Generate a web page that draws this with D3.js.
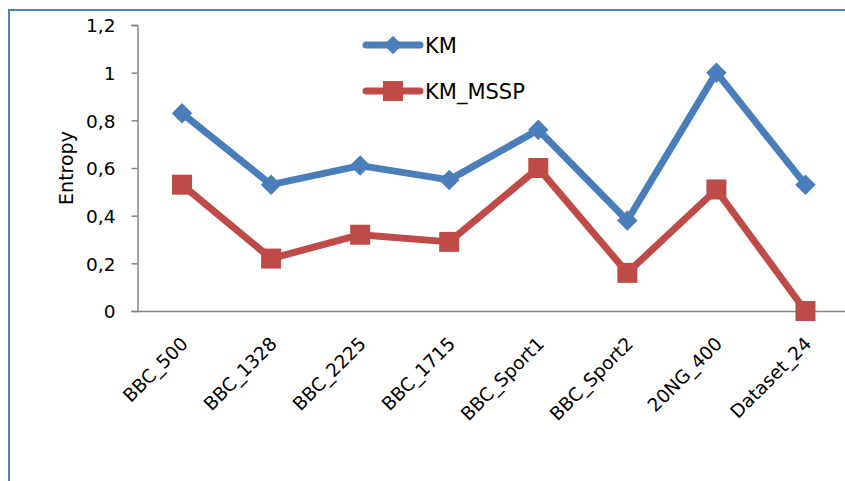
<!DOCTYPE html>
<html>
<head>
<meta charset="utf-8">
<script src="https://cdn.jsdelivr.net/npm/d3@7"></script>
<style>
  html, body { margin: 0; padding: 0; background: #fff; }
  svg { display: block; }
  svg text { font-family: "DejaVu Sans", sans-serif; fill: #000; }
</style>
</head>
<body>
<svg id="chart" width="845" height="481"></svg>
<script>
const categories = ["BBC_500", "BBC_1328", "BBC_2225", "BBC_1715", "BBC_Sport1", "BBC_Sport2", "20NG_400", "Dataset_24"];
const kmValues = [0.83, 0.53, 0.61, 0.55, 0.76, 0.38, 1.0, 0.53];
const kmMsspValues = [0.53, 0.22, 0.32, 0.29, 0.60, 0.16, 0.51, 0.0];
const yTicks = [0, 0.2, 0.4, 0.6, 0.8, 1, 1.2];
const seriesNames = ["KM", "KM_MSSP"];

const svg = d3.select("#chart");
const blue = "#4A7EBB", red = "#BE4B48", axisColor = "#868686";
const fontSize = "18.5px";

// outer frame
svg.append("rect")
  .attr("x", 9).attr("y", 10).attr("width", 900).attr("height", 600)
  .attr("fill", "none").attr("stroke", "#4F81BD").attr("stroke-width", 2);

const plot = { left: 137.5, right: 850, top: 25, bottom: 311 };

const x = d3.scaleBand().domain(categories).range([plot.left, plot.right]);
const y = d3.scaleLinear().domain([0, 1.2]).range([plot.bottom, plot.top]);
const cx = d => x(d) + x.bandwidth() / 2;

// y axis
const yAxis = svg.append("g")
  .attr("transform", `translate(${plot.left},0)`)
  .call(d3.axisLeft(y).tickValues(yTicks).tickSize(6).tickPadding(16)
    .tickFormat(d => String(d).replace(".", ",")));
yAxis.attr("font-family", null).attr("font-size", null);
yAxis.select(".domain").attr("stroke", axisColor).attr("stroke-width", 1.5);
yAxis.selectAll(".tick line").attr("stroke", axisColor).attr("stroke-width", 1.5);
yAxis.selectAll(".tick text").style("font-size", fontSize).attr("dy", "0.36em");

// x axis
const xAxis = svg.append("g")
  .attr("transform", `translate(0,${plot.bottom})`)
  .call(d3.axisBottom(x).tickSize(0).tickPadding(0));
xAxis.attr("font-family", null).attr("font-size", null);
xAxis.select(".domain").attr("stroke", axisColor).attr("stroke-width", 1.5);
xAxis.selectAll(".tick text")
  .style("font-size", fontSize)
  .attr("text-anchor", "end")
  .attr("dy", 0)
  .attr("transform", "translate(7,34) rotate(-45)");

// y axis title
svg.append("text")
  .attr("transform", `translate(73,168) rotate(-90)`)
  .attr("text-anchor", "middle")
  .style("font-size", "19px")
  .text("Entropy");

const line = d3.line().x((d, i) => cx(categories[i])).y(d => y(d));

// series lines
svg.append("path").datum(kmValues).attr("d", line)
  .attr("fill", "none").attr("stroke", blue).attr("stroke-width", 7).attr("stroke-linejoin", "round");
svg.append("path").datum(kmMsspValues).attr("d", line)
  .attr("fill", "none").attr("stroke", red).attr("stroke-width", 7).attr("stroke-linejoin", "round");

// KM markers (diamonds)
svg.append("g").selectAll("path").data(kmValues).join("path")
  .attr("d", d3.symbol().type(d3.symbolSquare).size(210))
  .attr("transform", (d, i) => `translate(${cx(categories[i])},${y(d)}) rotate(45)`)
  .attr("fill", blue);

// KM_MSSP markers (squares)
svg.append("g").selectAll("rect").data(kmMsspValues).join("rect")
  .attr("x", (d, i) => cx(categories[i]) - 10)
  .attr("y", d => y(d) - 10)
  .attr("width", 20).attr("height", 20)
  .attr("fill", red);

// legend
const legend = svg.append("g");
const legendRows = [
  { name: seriesNames[0], color: blue, y: 45, marker: "diamond" },
  { name: seriesNames[1], color: red, y: 91, marker: "square" }
];
legendRows.forEach(r => {
  legend.append("line").attr("x1", 366).attr("x2", 420).attr("y1", r.y).attr("y2", r.y)
    .attr("stroke", r.color).attr("stroke-width", 7).attr("stroke-linecap", "round");
  if (r.marker === "diamond") {
    legend.append("path").attr("d", d3.symbol().type(d3.symbolSquare).size(170))
      .attr("transform", `translate(393,${r.y}) rotate(45)`).attr("fill", r.color);
  } else {
    legend.append("rect").attr("x", 393 - 10).attr("y", r.y - 10).attr("width", 20).attr("height", 20)
      .attr("fill", r.color);
  }
  legend.append("text").attr("x", 425).attr("y", r.y + 8).style("font-size", "21px").text(r.name);
});
</script>
</body>
</html>
